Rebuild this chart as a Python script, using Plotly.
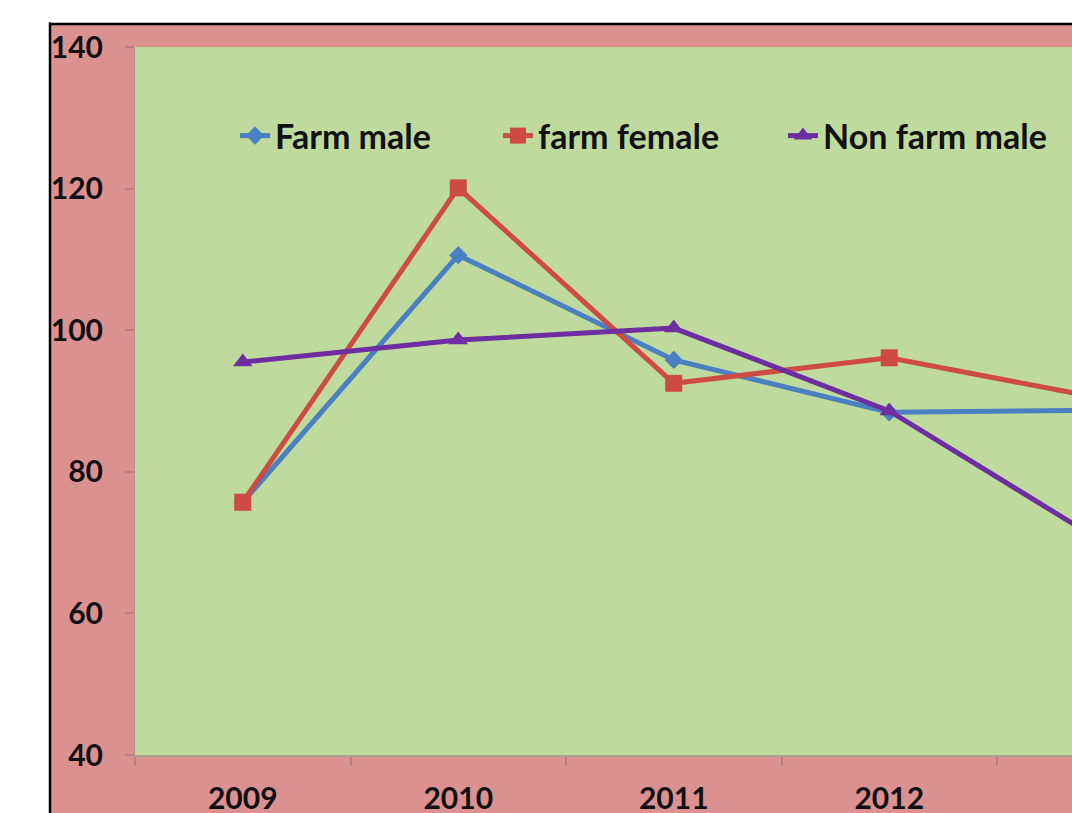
import plotly.graph_objects as go

# Survey years and index values per group
years = ["2009", "2010", "2011", "2012", "2013"]
farm_male = [75.7, 110.6, 95.8, 88.4, 88.7]
farm_female = [75.7, 120.1, 92.5, 96.1, 90.3]
non_farm_male = [95.5, 98.6, 100.3, 88.6, 69.9]

# Figure geometry (pixels)
W, H = 1072, 813
PLOT_L, PLOT_R, PLOT_T, PLOT_B = 135, 1072, 47, 755
PW, PH = PLOT_R - PLOT_L, PLOT_B - PLOT_T


def px_x(p):
    return (p - PLOT_L) / PW


def px_y(q):
    return (PLOT_B - q) / PH


PINK = "#DC9191"
GREEN = "#BEDA9D"
BLUE = "#4A7FC1"
RED = "#CD4B44"
PURPLE = "#6E2DA0"
FONT = "Lato"
TEXT = "#111111"

fig = go.Figure()
series = [
    ("Farm male", farm_male, BLUE, "diamond", 14, "legend"),
    ("farm female", farm_female, RED, "square", 17, "legend2"),
    ("Non farm male", non_farm_male, PURPLE, "triangle-up", 17, "legend3"),
]
for name, vals, col, sym, size, leg in series:
    fig.add_trace(go.Scatter(
        x=years, y=vals, name=name, mode="lines+markers",
        line=dict(color=col, width=5),
        marker=dict(symbol=sym, size=size, color=col, line=dict(width=0)),
        legend=leg,
    ))

legend_style = dict(
    orientation="h", yanchor="middle", xanchor="left",
    bgcolor="rgba(0,0,0,0)", borderwidth=0,
    font=dict(family=FONT, size=34, color=TEXT, weight="bold"),
)

tick_font = dict(family=FONT, size=30, color=TEXT, weight="bold")

fig.update_layout(
    width=W, height=H,
    margin=dict(l=PLOT_L, r=W - PLOT_R, t=PLOT_T, b=H - PLOT_B, pad=0),
    paper_bgcolor=PINK,
    plot_bgcolor=GREEN,
    showlegend=True,
    legend=dict(x=px_x(235), y=px_y(136), **legend_style),
    legend2=dict(x=px_x(498), y=px_y(136), **legend_style),
    legend3=dict(x=px_x(783), y=px_y(136), **legend_style),
    xaxis=dict(
        type="category", range=[-0.5, PW / 215.5 - 0.5],
        automargin=False,
        showgrid=False, zeroline=False,
        showline=True, linecolor="#A8A090", linewidth=1.5,
        ticks="outside", tickson="boundaries", ticklen=9,
        tickcolor="#B88080", tickwidth=1.5,
        ticklabelstandoff=16,
        tickfont=tick_font,
    ),
    yaxis=dict(
        range=[40, 140], dtick=20, tick0=40,
        automargin=False,
        showgrid=False, zeroline=False,
        showline=True, linecolor="#C08888", linewidth=1,
        ticks="outside", ticklen=9, tickcolor="#B88080", tickwidth=1.5,
        ticklabelstandoff=16,
        tickfont=tick_font,
    ),
    shapes=[
        # white page margin on the left and top, with the black frame edge
        dict(type="rect", xref="paper", yref="paper", layer="above",
             x0=px_x(-10), x1=px_x(49), y0=px_y(H + 10), y1=px_y(-10),
             fillcolor="white", line=dict(width=0)),
        dict(type="rect", xref="paper", yref="paper", layer="above",
             x0=px_x(-10), x1=px_x(W + 10), y0=px_y(23), y1=px_y(-10),
             fillcolor="white", line=dict(width=0)),
        dict(type="line", xref="paper", yref="paper", layer="above",
             x0=px_x(50), x1=px_x(50), y0=px_y(22.5), y1=px_y(H + 10),
             line=dict(color="black", width=2.5)),
        dict(type="line", xref="paper", yref="paper", layer="above",
             x0=px_x(49), x1=px_x(W + 10), y0=px_y(24), y1=px_y(24),
             line=dict(color="black", width=2.5)),
    ],
    annotations=[
        dict(x="2013", xref="x", y=px_y(795), yref="paper",
             text="2013", showarrow=False, xanchor="center", yanchor="middle",
             font=tick_font),
    ],
)

fig.write_html("out.html")
